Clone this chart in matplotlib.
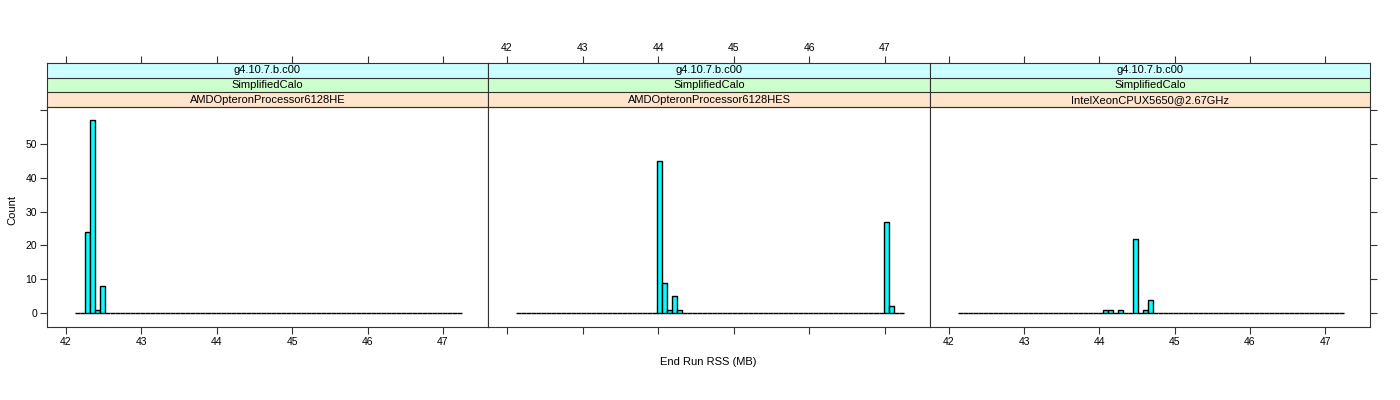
import numpy as np
import matplotlib
matplotlib.use('Agg')
import matplotlib.pyplot as plt

plt.rcParams['font.family'] = ['Liberation Sans', 'DejaVu Sans']

# histogram bins shared by all panels
bin_start = 42.117
bin_width = 0.06665
n_bins = 77

versions = ['g4.10.7.b.c00', 'g4.10.7.b.c00', 'g4.10.7.b.c00']
tests = ['SimplifiedCalo', 'SimplifiedCalo', 'SimplifiedCalo']
cpus = ['AMDOpteronProcessor6128HE', 'AMDOpteronProcessor6128HES', 'IntelXeonCPUX5650@2.67GHz']

# non-empty bins (index) and their counts, one pair of lists per panel
bins_he = [2, 3, 4, 5]
counts_he = [24, 57, 1, 8]
bins_hes = [28, 29, 30, 31, 32, 73, 74]
counts_hes = [45, 9, 1, 5, 1, 27, 2]
bins_intel = [29, 30, 32, 35, 37, 38]
counts_intel = [1, 1, 1, 22, 1, 4]

x_ticks = [42, 43, 44, 45, 46, 47]
y_ticks = [0, 10, 20, 30, 40, 50, 60]
y_labels = ['0', '10', '20', '30', '40', '50', '']

panel_bins = [bins_he, bins_hes, bins_intel]
panel_counts = [counts_he, counts_hes, counts_intel]

W, H = 1400, 400
fig = plt.figure(figsize=(14, 4), dpi=100)

edges = bin_start + bin_width * np.arange(n_bins)
strip_cols = ['#ccffff', '#ccffcc', '#ffe5cc']
frame = '#333333'

panel_px = [(47, 488), (488, 930), (930, 1370)]
top_px, bot_px = 107, 327
strip_top = 63

for i, (x0, x1) in enumerate(panel_px):
    ax = fig.add_axes([x0 / W, 1 - bot_px / H, (x1 - x0) / W, (bot_px - top_px) / H])
    counts = np.zeros(n_bins)
    counts[panel_bins[i]] = panel_counts[i]
    ax.bar(edges, counts, width=bin_width, align='edge', color='#00ffff',
           edgecolor='black', linewidth=1.0)
    ax.set_xlim(41.748, 47.597)
    ax.set_ylim(-4.1, 60.9)
    for s in ax.spines.values():
        s.set_color(frame)
        s.set_linewidth(0.8)
    ax.set_xticks(x_ticks)
    ax.tick_params(axis='both', direction='out', length=5, width=0.8,
                   color=frame, labelsize=7.5, pad=2)
    if i == 1:
        ax.set_xticklabels([])
    ax.set_yticks(y_ticks)
    if i == 0:
        ax.set_yticklabels(y_labels)
    elif i == 2:
        ax.yaxis.tick_right()
        ax.set_yticklabels([])
    else:
        ax.tick_params(axis='y', left=False, labelleft=False)

    # strips
    sax = fig.add_axes([x0 / W, 1 - top_px / H, (x1 - x0) / W, (top_px - strip_top) / H])
    sax.set_xlim(41.748, 47.597)
    sax.set_ylim(0, 3)
    labels = [versions[i], tests[i], cpus[i]]
    for k in range(3):
        sax.axhspan(2 - k, 3 - k, color=strip_cols[k], zorder=0)
        sax.axhline(2 - k, color=frame, linewidth=0.8)
        sax.text((41.748 + 47.597) / 2, 2.5 - k, labels[k], ha='center', va='center',
                 fontsize=8)
    for s in sax.spines.values():
        s.set_color(frame)
        s.set_linewidth(0.8)
    sax.xaxis.tick_top()
    sax.set_xticks(x_ticks)
    sax.set_yticks([])
    sax.tick_params(axis='x', direction='out', length=5, width=0.8,
                    color=frame, labelsize=7.5, pad=2)
    if i != 1:
        sax.set_xticklabels([])

fig.text(708 / W, 1 - 362 / H, 'End Run RSS (MB)', ha='center', va='center', fontsize=8)
fig.text(12 / W, 1 - 210 / H, 'Count', ha='center', va='center', rotation=90, fontsize=8)

fig.savefig('out.png', dpi=100)
